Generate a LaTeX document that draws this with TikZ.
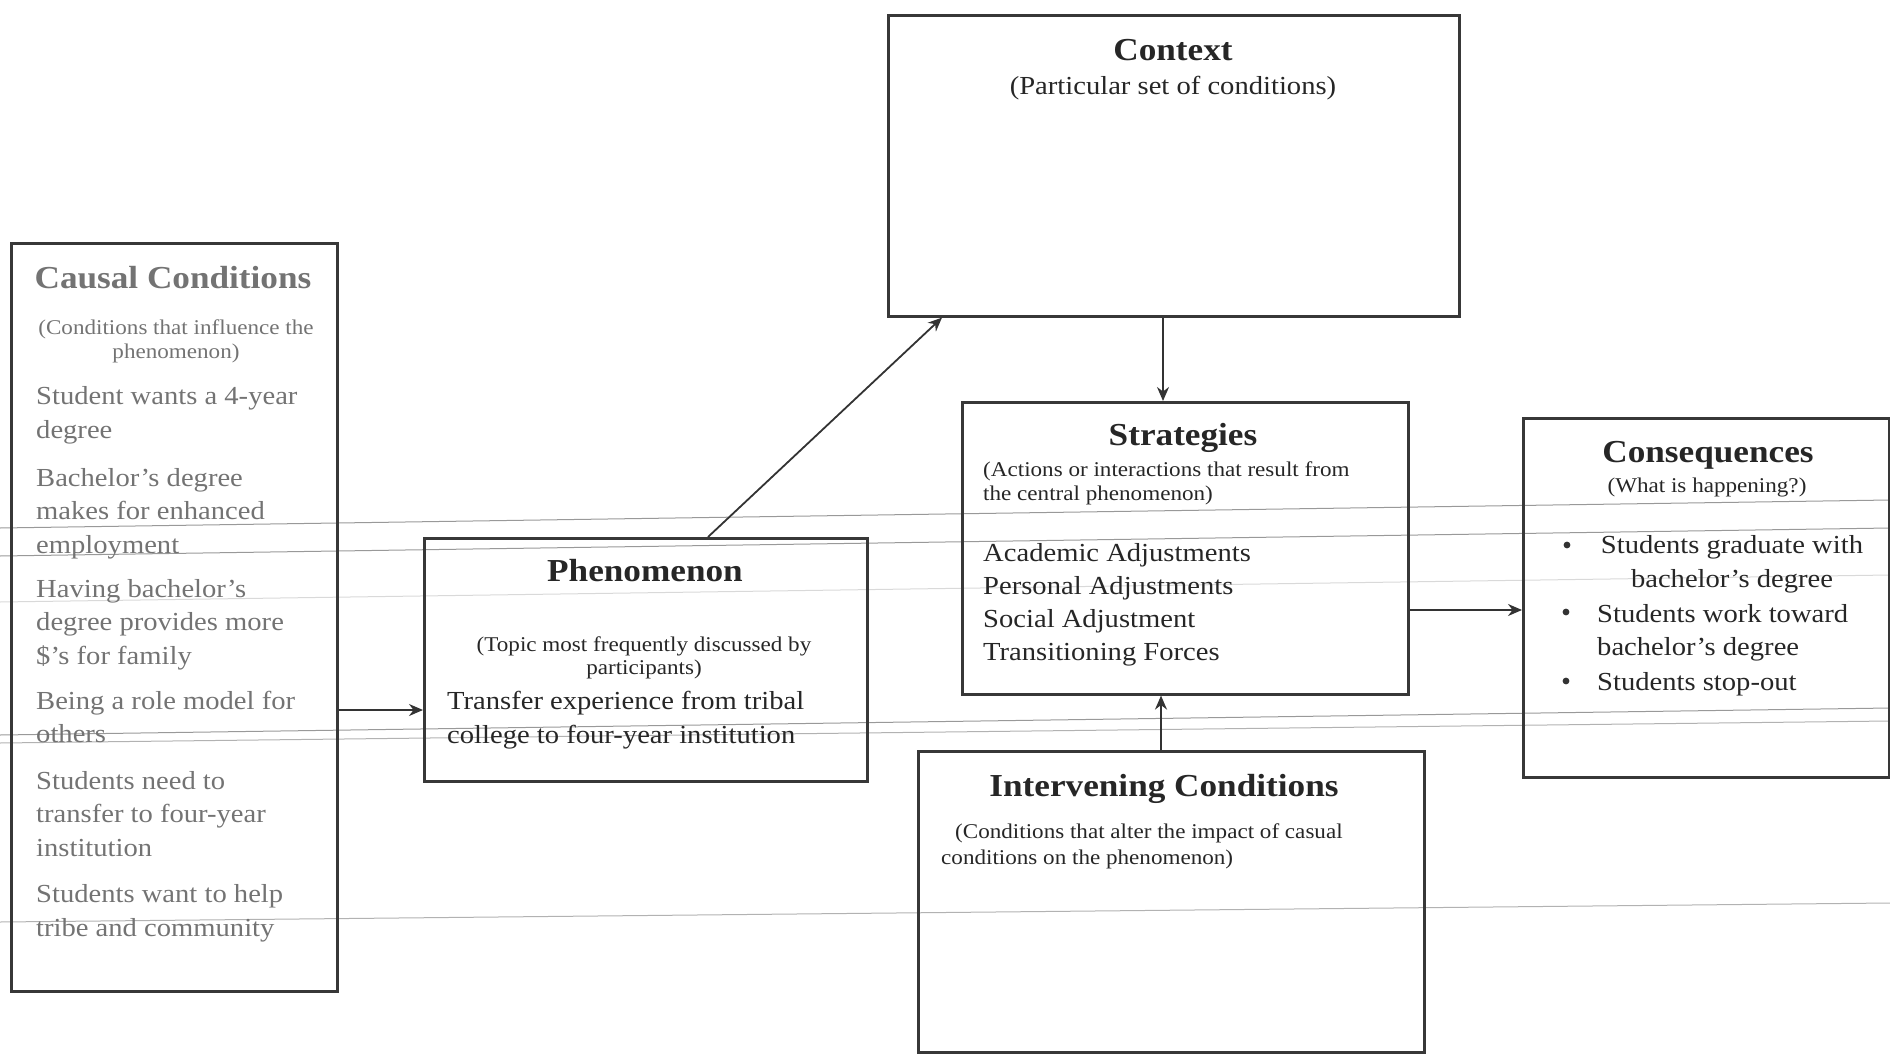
\documentclass[tikz,border=0pt]{standalone}
\usepackage{fontspec}
\setmainfont{Liberation Serif}[FakeStretch=1.1]
\usetikzlibrary{arrows.meta}

\newcommand\boxtitle{\fontsize{32}{36}\selectfont\bfseries}
\newcommand\boxsub{\fontsize{21}{23.5}\selectfont}
\newcommand\boxbody{\fontsize{26}{33.5}\selectfont}

\begin{document}
\begin{tikzpicture}[x=1pt,y=-1pt,
  box/.style={draw=black!78, line width=2.6pt, inner sep=0pt, anchor=north west},
  arr/.style={draw=black!80, line width=1.8pt, -{Stealth[length=14pt,width=12pt]}},
  ruled/.style={draw=black!40, line width=1pt},
  txt/.style={inner sep=0pt, text=black!85},
  faded/.style={inner sep=0pt, text=black!55},
  ttl/.style={font=\boxtitle, anchor=base},
  sub/.style={font=\boxsub},
  body/.style={font=\boxbody, align=left, anchor=base west}]

% multi-line nodes are placed by the baseline of their last line
\useasboundingbox (0,0) rectangle (1890,1057);

% faint rules running across the sheet
\draw[ruled] (0,528) -- (1890,500);
\draw[ruled] (0,556) -- (1890,528);
\draw[ruled, draw=black!15] (0,602) -- (1890,575);
\draw[ruled] (0,735) -- (1890,708);
\draw[ruled, draw=black!30] (0,743) -- (1890,721);
\draw[ruled, draw=black!30] (0,922) -- (1890,903);

% frames
\node[box, minimum width=326, minimum height=748] (cc) at (10,242) {};
\node[box, minimum width=443, minimum height=243] (ph) at (423,537) {};
\node[box, minimum width=571, minimum height=301] (ctx) at (887,14) {};
\node[box, minimum width=446, minimum height=292] (st) at (961,401) {};
\node[box, minimum width=366, minimum height=359] (cq) at (1522,417) {};
\node[box, minimum width=506, minimum height=301] (iv) at (917,750) {};

% Context
\node[txt, ttl] (ctxT) at (1173,60) {Context};
\node[txt, font=\fontsize{26}{30}\selectfont, anchor=base] (ctxS) at (1173,94) {(Particular set of conditions)};

% Causal Conditions
\node[faded, ttl] (ccT) at (173,288) {Causal Conditions};
\node[faded, sub, align=center, anchor=base] (ccS) at (176,358) {(Conditions that influence the\\phenomenon)};
\node[faded, body] (cc1) at (36,438) {Student wants a 4-year\\degree};
\node[faded, body] (cc2) at (36,553) {Bachelor’s degree\\makes for enhanced\\employment};
\node[faded, body] (cc3) at (36,664) {Having bachelor’s\\degree provides more\\\$’s for family};
\node[faded, body] (cc4) at (36,742.5) {Being a role model for\\others};
\node[faded, body] (cc5) at (36,856) {Students need to\\transfer to four-year\\institution};
\node[faded, body] (cc6) at (36,936) {Students want to help\\tribe and community};

% Phenomenon
\node[txt, ttl] (phT) at (645,581) {Phenomenon};
\node[txt, sub, align=center, anchor=base] (phS) at (644,674.5) {(Topic most frequently discussed by\\participants)};
\node[txt, body, font=\fontsize{26}{34}\selectfont] (phB) at (447,743.5) {Transfer experience from tribal\\college to four-year institution};

% Strategies
\node[txt, ttl] (stT) at (1183,445) {Strategies};
\node[txt, sub, align=left, anchor=base west] (stS) at (983,500) {(Actions or interactions that result from\\the central phenomenon)};
\node[txt, body, font=\fontsize{26}{32.7}\selectfont] (stB) at (983,660) {Academic Adjustments\\Personal Adjustments\\Social Adjustment\\Transitioning Forces};

% Consequences
\node[txt, ttl] (cqT) at (1708,462) {Consequences};
\node[txt, sub, anchor=base] (cqS) at (1707,492) {(What is happening?)};
\node[txt, font=\boxbody, align=center, anchor=base] (cq1) at (1732,587) {Students graduate with\\bachelor’s degree};
\node[txt, body] (cq2) at (1597,655.5) {Students work toward\\bachelor’s degree};
\node[txt, body] (cq3) at (1597,690) {Students stop-out};
\fill[black!80] (1567,545) circle (3.4pt) (1566,612) circle (3.4pt) (1566,681) circle (3.4pt);

% Intervening Conditions
\node[txt, ttl] (ivT) at (1164,796) {Intervening Conditions};
\node[txt, sub, anchor=base west] (ivS1) at (955,838) {(Conditions that alter the impact of casual};
\node[txt, sub, anchor=base west] (ivS2) at (941,864) {conditions on the phenomenon)};

% connectors
\draw[arr] (cc.east |- 0,710) -- (ph.west |- 0,710);
\draw[arr] ([xshift=285pt]ph.north west) -- ([xshift=55pt]ctx.south west);
\draw[arr] (1163,0 |- ctx.south) -- (1163,0 |- st.north);
\draw[arr] (1161,0 |- iv.north) -- (1161,0 |- st.south);
\draw[arr] (st.east |- 0,610) -- (cq.west |- 0,610);
\end{tikzpicture}
\end{document}
